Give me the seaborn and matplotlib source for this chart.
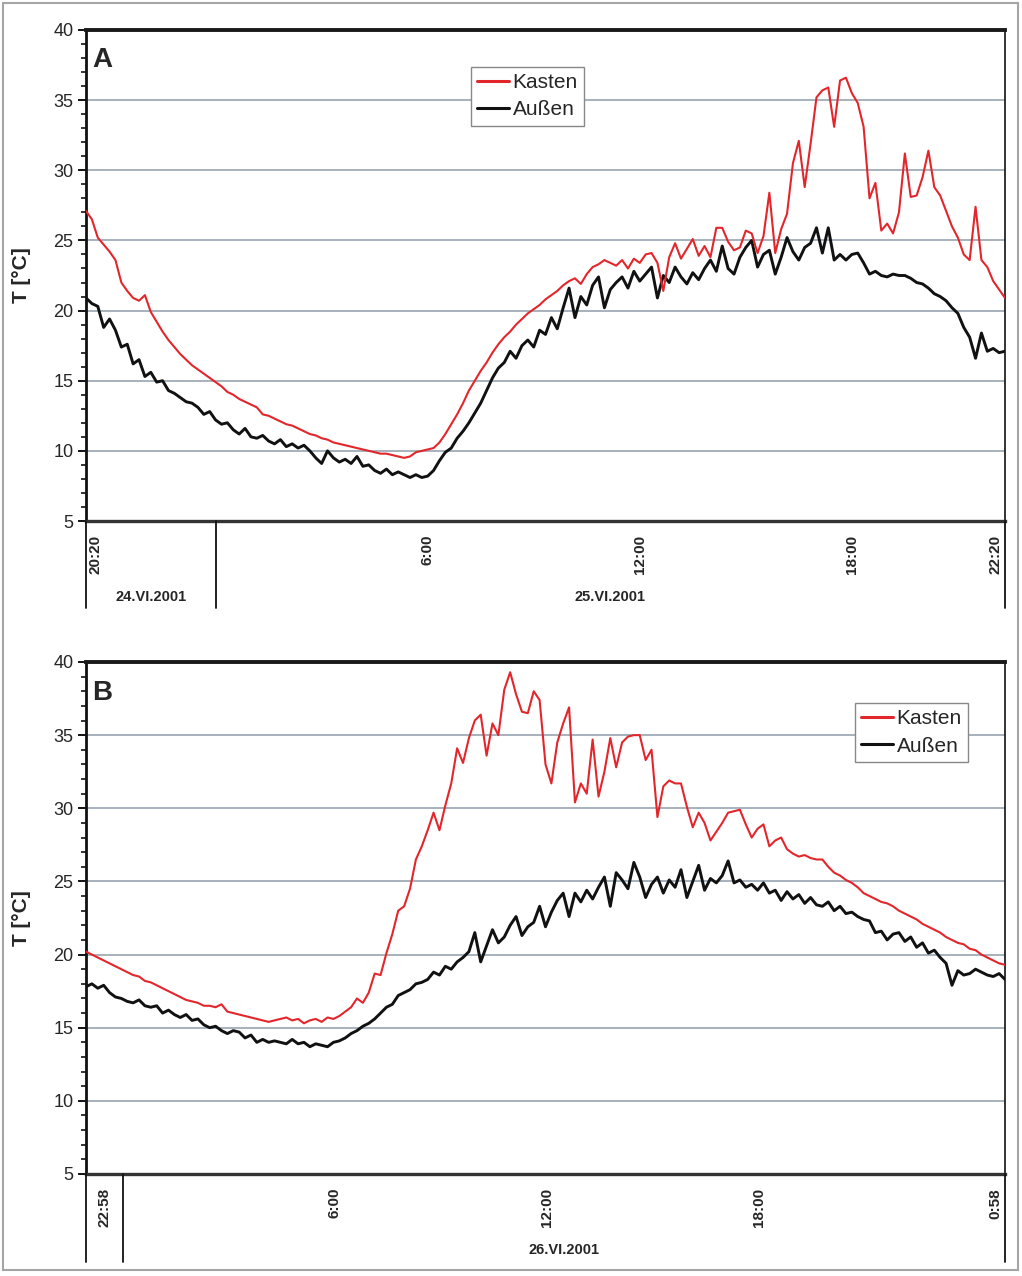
import numpy as np
import pandas as pd
import matplotlib
matplotlib.use("Agg")
import matplotlib.pyplot as plt
import seaborn as sns
from matplotlib.ticker import MultipleLocator
from matplotlib.transforms import blended_transform_factory, offset_copy
from matplotlib.patches import Rectangle

# ---------------- data (10-minute readings, °C) ----------------
# Panel A: start 24.VI.2001 20:20, end 25.VI.2001 22:20
kasten_A = [
    27.1, 26.5, 25.2, 24.7, 24.2, 23.6,
    22.0, 21.4, 20.9, 20.7, 21.1, 19.9,
    19.2, 18.5, 17.9, 17.4, 16.9, 16.5,
    16.1, 15.8, 15.5, 15.2, 14.9, 14.6,
    14.2, 14.0, 13.7, 13.5, 13.3, 13.1,
    12.6, 12.5, 12.3, 12.1, 11.9, 11.8,
    11.6, 11.4, 11.2, 11.1, 10.9, 10.8,
    10.6, 10.5, 10.4, 10.3, 10.2, 10.1,
    10.0, 9.9, 9.8, 9.8, 9.7, 9.6,
    9.5, 9.6, 9.9, 10.0, 10.1, 10.2,
    10.6, 11.2, 11.9, 12.6, 13.4, 14.3,
    15.0, 15.7, 16.3, 17.0, 17.6, 18.1,
    18.5, 19.0, 19.4, 19.8, 20.1, 20.4,
    20.8, 21.1, 21.4, 21.8, 22.1, 22.3,
    21.9, 22.6, 23.1, 23.3, 23.6, 23.4,
    23.2, 23.6, 23.0, 23.7, 23.4, 24.0,
    24.1, 23.4, 21.4, 23.8, 24.8, 23.7,
    24.4, 25.1, 23.9, 24.6, 23.8, 25.9,
    25.9, 24.9, 24.3, 24.5, 25.7, 25.5,
    24.1, 25.3, 28.4, 24.1, 25.8, 26.9,
    30.5, 32.1, 28.8, 31.9, 35.2, 35.7,
    35.9, 33.1, 36.4, 36.6, 35.5, 34.8,
    33.1, 28.0, 29.1, 25.7, 26.2, 25.5,
    27.0, 31.2, 28.1, 28.2, 29.5, 31.4,
    28.8, 28.2, 27.1, 26.0, 25.2, 24.0,
    23.6, 27.4, 23.6, 23.1, 22.1, 21.5,
    20.9,
]
aussen_A = [
    20.9, 20.5, 20.3, 18.8, 19.4, 18.6,
    17.4, 17.6, 16.2, 16.5, 15.3, 15.6,
    14.9, 15.0, 14.3, 14.1, 13.8, 13.5,
    13.4, 13.1, 12.6, 12.8, 12.2, 11.9,
    12.0, 11.5, 11.2, 11.6, 11.0, 10.9,
    11.1, 10.7, 10.5, 10.8, 10.3, 10.5,
    10.2, 10.4, 10.0, 9.5, 9.1, 10.0,
    9.5, 9.2, 9.4, 9.1, 9.6, 8.9,
    9.0, 8.6, 8.4, 8.7, 8.3, 8.5,
    8.3, 8.1, 8.3, 8.1, 8.2, 8.6,
    9.3, 9.9, 10.2, 10.9, 11.4, 12.0,
    12.7, 13.4, 14.3, 15.2, 15.9, 16.3,
    17.1, 16.6, 17.5, 17.9, 17.4, 18.6,
    18.3, 19.5, 18.7, 20.2, 21.6, 19.5,
    21.0, 20.4, 21.8, 22.4, 20.2, 21.5,
    22.0, 22.4, 21.6, 22.8, 22.1, 22.6,
    23.1, 20.9, 22.5, 22.0, 23.1, 22.4,
    21.9, 22.7, 22.2, 23.0, 23.6, 22.8,
    24.6, 23.0, 22.6, 23.8, 24.5, 25.0,
    23.1, 24.0, 24.3, 22.6, 23.8, 25.2,
    24.2, 23.6, 24.5, 24.8, 25.9, 24.1,
    25.9, 23.6, 24.0, 23.6, 24.0, 24.1,
    23.4, 22.6, 22.8, 22.5, 22.4, 22.6,
    22.5, 22.5, 22.3, 22.0, 21.9, 21.6,
    21.2, 21.0, 20.7, 20.2, 19.8, 18.8,
    18.1, 16.6, 18.4, 17.1, 17.3, 17.0,
    17.1,
]

# Panel B: start 22:58, end 0:58 (two days later)
kasten_B = [
    20.2, 20.0, 19.8, 19.6, 19.4, 19.2,
    19.0, 18.8, 18.6, 18.5, 18.2, 18.1,
    17.9, 17.7, 17.5, 17.3, 17.1, 16.9,
    16.8, 16.7, 16.5, 16.5, 16.4, 16.6,
    16.1, 16.0, 15.9, 15.8, 15.7, 15.6,
    15.5, 15.4, 15.5, 15.6, 15.7, 15.5,
    15.6, 15.3, 15.5, 15.6, 15.4, 15.7,
    15.6, 15.8, 16.1, 16.4, 17.0, 16.7,
    17.4, 18.7, 18.6, 20.1, 21.4, 23.0,
    23.3, 24.5, 26.5, 27.4, 28.5, 29.7,
    28.5, 30.2, 31.7, 34.1, 33.1, 34.8,
    36.0, 36.4, 33.6, 35.8, 35.0, 38.1,
    39.3, 37.8, 36.6, 36.5, 38.0, 37.4,
    33.0, 31.7, 34.5, 35.8, 36.9, 30.4,
    31.7, 31.0, 34.7, 30.8, 32.5, 34.8,
    32.8, 34.5, 34.9, 35.0, 35.0, 33.3,
    34.0, 29.4, 31.5, 31.9, 31.7, 31.7,
    30.1, 28.7, 29.7, 29.0, 27.8, 28.4,
    29.0, 29.7, 29.8, 29.9, 28.9, 28.0,
    28.6, 28.9, 27.4, 27.8, 28.0, 27.2,
    26.9, 26.7, 26.8, 26.6, 26.5, 26.5,
    26.0, 25.6, 25.4, 25.1, 24.9, 24.6,
    24.2, 24.0, 23.8, 23.6, 23.5, 23.3,
    23.0, 22.8, 22.6, 22.4, 22.1, 21.9,
    21.7, 21.5, 21.2, 21.0, 20.8, 20.7,
    20.4, 20.3, 20.0, 19.8, 19.6, 19.4,
    19.3,
]
aussen_B = [
    17.8, 18.0, 17.7, 17.9, 17.4, 17.1,
    17.0, 16.8, 16.7, 16.9, 16.5, 16.4,
    16.5, 16.0, 16.2, 15.9, 15.7, 15.9,
    15.5, 15.6, 15.2, 15.0, 15.1, 14.8,
    14.6, 14.8, 14.7, 14.3, 14.5, 14.0,
    14.2, 14.0, 14.1, 14.0, 13.9, 14.2,
    13.9, 14.0, 13.7, 13.9, 13.8, 13.7,
    14.0, 14.1, 14.3, 14.6, 14.8, 15.1,
    15.3, 15.6, 16.0, 16.4, 16.6, 17.2,
    17.4, 17.6, 18.0, 18.1, 18.3, 18.8,
    18.6, 19.2, 19.0, 19.5, 19.8, 20.2,
    21.5, 19.5, 20.6, 21.7, 20.8, 21.2,
    22.0, 22.6, 21.3, 21.9, 22.2, 23.3,
    21.9, 22.9, 23.7, 24.2, 22.6, 24.2,
    23.6, 24.4, 23.8, 24.6, 25.3, 23.3,
    25.6, 25.1, 24.5, 26.3, 25.3, 23.9,
    24.8, 25.3, 24.2, 25.1, 24.6, 25.8,
    23.9, 25.0, 26.1, 24.4, 25.2, 24.9,
    25.4, 26.4, 24.9, 25.1, 24.6, 24.8,
    24.4, 24.9, 24.2, 24.4, 23.7, 24.3,
    23.8, 24.1, 23.5, 23.9, 23.4, 23.3,
    23.6, 23.0, 23.3, 22.8, 22.9, 22.6,
    22.4, 22.3, 21.5, 21.6, 21.0, 21.4,
    21.5, 20.9, 21.2, 20.5, 20.8, 20.1,
    20.3, 19.8, 19.4, 17.9, 18.9, 18.6,
    18.7, 19.0, 18.8, 18.6, 18.5, 18.7,
    18.3,
]

series_names = ["Kasten", "Außen"]
yticks = [5, 10, 15, 20, 25, 30, 35, 40]

start_A = "20:20"
ticks_A = [("20:20", 0), ("6:00", 1), ("12:00", 1), ("18:00", 1), ("22:20", 1)]
dates_A = ["24.VI.2001", "25.VI.2001"]

start_B = "22:58"
ticks_B = [("22:58", 0), ("6:00", 1), ("12:00", 1), ("18:00", 1), ("0:58", 2)]
dates_B = ["26.VI.2001"]

STEP_H = 1 / 6  # 10-minute sampling


def hm(s):
    h, m = s.split(":")
    return int(h) + int(m) / 60


def make_df(kasten, aussen):
    t = np.arange(len(kasten)) * STEP_H
    return pd.DataFrame({
        "t": np.concatenate([t, t]),
        "T": np.concatenate([kasten, aussen]),
        "series": [series_names[0]] * len(kasten) + [series_names[1]] * len(aussen),
    })


# ---------------- style ----------------
sns.set_style("white")
plt.rcParams["font.family"] = ["Liberation Sans", "DejaVu Sans"]

W, H = 1022, 1276
fig = plt.figure(figsize=(W / 100, H / 100), dpi=100)
axA = fig.add_axes([86 / W, 1 - 521 / H, 919 / W, 491 / H])
axB = fig.add_axes([86 / W, 1 - 1174 / H, 919 / W, 512 / H])

RED = "#e3262b"
BLACK = "#111111"
GRID = "#8e9cab"


def draw_panel(ax, df, letter, start, ticks, dates, leg_anchor, sep_len):
    sub_k = df[df.series == series_names[0]]
    sub_a = df[df.series == series_names[1]]
    sns.lineplot(data=sub_k, x="t", y="T", color=RED, linewidth=1.5, ax=ax,
                 label=series_names[0], zorder=4)
    sns.lineplot(data=sub_a, x="t", y="T", color=BLACK, linewidth=2.1, ax=ax,
                 label=series_names[1], zorder=3)

    ax.set_xlim(0, 26)
    ax.set_ylim(5, 40)
    ax.set_yticks(yticks)
    ax.yaxis.set_minor_locator(MultipleLocator(1))
    ax.grid(axis="y", which="major", color=GRID, linewidth=1.1, zorder=0)
    ax.grid(axis="x", visible=False)
    ax.tick_params(axis="y", which="major", direction="out", length=6, width=1.4,
                   color=BLACK, labelsize=13, pad=3, left=True)
    ax.tick_params(axis="y", which="minor", direction="out", length=3.5, width=1.2,
                   color=BLACK, left=True)
    ax.tick_params(axis="x", length=0, labelbottom=False)
    ax.set_xlabel("")
    ax.set_ylabel("T [°C]", fontsize=15, fontweight="bold")
    ax.yaxis.set_label_coords(-0.060, 0.5)

    for side, lw, col in [("left", 2.0, BLACK), ("top", 2.8, "#1a1a1a"),
                          ("bottom", 2.4, "#333333"), ("right", 1.2, BLACK)]:
        ax.spines[side].set_visible(True)
        ax.spines[side].set_linewidth(lw)
        ax.spines[side].set_color(col)

    ax.text(0.0065, 0.965, letter, transform=ax.transAxes, fontsize=20,
            fontweight="bold", ha="left", va="top")

    # time labels below the axis
    s = hm(start)
    tr = blended_transform_factory(ax.transData, ax.transAxes)
    pos = [d * 24 + hm(lbl) - s for lbl, d in ticks]
    midnight = 24 - s
    for i, ((lbl, d), x) in enumerate(zip(ticks, pos)):
        if i == 0:
            xx = (x + midnight) / 2 if midnight < 2 else x
            ha = "center" if midnight < 2 else "left"
            dx = 0 if midnight < 2 else 2
        elif i == len(ticks) - 1:
            xx, ha, dx = x, "right", -2
        else:
            xx, ha, dx = x, "center", 0
        ttr = offset_copy(tr, fig=fig, x=dx, y=-10, units="points")
        ax.text(xx, 0, lbl, transform=ttr, rotation=90, ha=ha, va="top",
                fontsize=11, fontweight="bold")

    # separator lines: start, midnight, end
    for x in [0, midnight, 26]:
        ax.plot([x, x], [0, -sep_len], transform=tr, color=BLACK,
                linewidth=1.3, clip_on=False, zorder=5)

    # date labels
    dtr = offset_copy(tr, fig=fig, x=0, y=-55, units="points")
    if len(dates) == 2:
        ax.text(midnight / 2, 0, dates[0], transform=dtr, ha="center",
                va="center", fontsize=10.5, fontweight="bold")
        ax.text((midnight + 26) / 2, 0, dates[1], transform=dtr, ha="center",
                va="center", fontsize=10.5, fontweight="bold")
    else:
        ax.text((midnight + 26) / 2, 0, dates[0], transform=dtr, ha="center",
                va="center", fontsize=10.5, fontweight="bold")

    leg = ax.legend(loc="upper left", bbox_to_anchor=leg_anchor, borderaxespad=0,
                    fontsize=15, frameon=True, fancybox=False, handlelength=1.5,
                    handletextpad=0.2, labelspacing=0.4, borderpad=0.3)
    leg.get_frame().set_edgecolor("#888888")
    leg.get_frame().set_linewidth(1.0)
    leg.get_frame().set_facecolor("white")
    leg.get_frame().set_alpha(1)
    for h in leg.get_lines():
        h.set_linewidth(2.2)


draw_panel(axA, make_df(kasten_A, aussen_A), "A", start_A, ticks_A, dates_A,
           (0.419, 0.925), 87 / 491)
draw_panel(axB, make_df(kasten_B, aussen_B), "B", start_B, ticks_B, dates_B,
           (0.8368, 0.920), 88 / 512)

fig.patches.append(Rectangle((3 / W, 6 / H), 1 - 7 / W, 1 - 9 / H, fill=False,
                             edgecolor="#a5a5a5", linewidth=1.5,
                             transform=fig.transFigure, figure=fig))

fig.savefig("out.png", dpi=100)
